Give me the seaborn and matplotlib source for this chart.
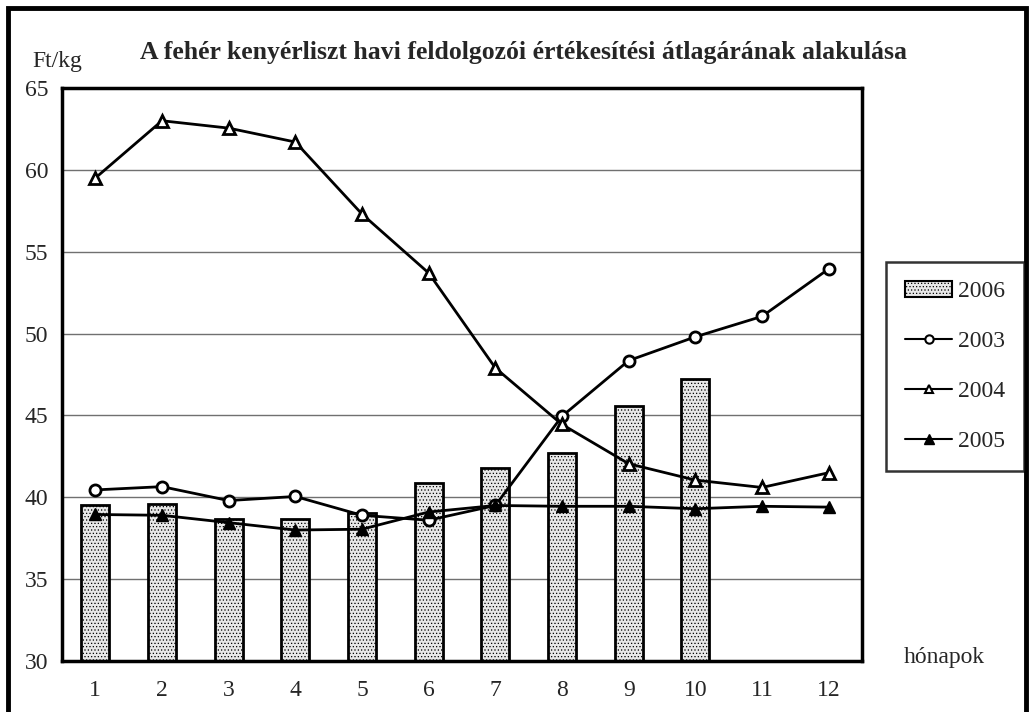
import numpy as np
import pandas as pd
import matplotlib
matplotlib.use("Agg")
import matplotlib.pyplot as plt
import matplotlib.patches as mpatches
from matplotlib.lines import Line2D
import seaborn as sns

# data (Ft/kg)
months = [1, 2, 3, 4, 5, 6, 7, 8, 9, 10, 11, 12]
price_2006 = [39.5, 39.6, 38.7, 38.7, 39.05, 40.9, 41.8, 42.7, 45.6, 47.2, np.nan, np.nan]
price_2003 = [40.45, 40.65, 39.8, 40.05, 38.9, 38.6, 39.5, 44.95, 48.35, 49.8, 51.05, 53.95]
price_2004 = [59.5, 63.0, 62.55, 61.7, 57.3, 53.7, 47.9, 44.45, 42.05, 41.05, 40.6, 41.5]
price_2005 = [38.95, 38.9, 38.45, 38.0, 38.05, 39.1, 39.5, 39.45, 39.45, 39.3, 39.45, 39.4]

sns.set_style("white")
plt.rcParams["font.family"] = ["Liberation Serif", "DejaVu Serif"]
plt.rcParams["hatch.linewidth"] = 0.5

fig = plt.figure(figsize=(10.29, 7.12), dpi=100)
ax = fig.add_axes([62 / 1029, 51 / 712, 800 / 1029, 573 / 712])

df = pd.DataFrame({"month": months, "2006": price_2006})
sns.barplot(data=df, x="month", y="2006", ax=ax, color="#e8e8e8",
            width=0.42, edgecolor="black", linewidth=2, hatch=".....",
            zorder=2)
for p in ax.patches:
    p.set_edgecolor("black")

xpos = np.arange(len(months))
line_kw = dict(ax=ax, color="black", linewidth=2, zorder=3, legend=False)
sns.lineplot(x=xpos, y=price_2003, marker="o", markersize=8,
             markerfacecolor="white", markeredgecolor="black",
             markeredgewidth=2, **line_kw)
sns.lineplot(x=xpos, y=price_2004, marker="^", markersize=8,
             markerfacecolor="white", markeredgecolor="black",
             markeredgewidth=2, **line_kw)
sns.lineplot(x=xpos, y=price_2005, marker="^", markersize=9,
             markerfacecolor="black", markeredgecolor="black",
             markeredgewidth=1, **line_kw)

ax.set_xlim(-0.5, len(months) - 0.5)
ax.set_ylim(30, 65)
ax.set_yticks(np.arange(30, 66, 5))
ax.set_xticks(xpos)
ax.set_xticklabels([str(m) for m in months])
ax.set_xticks(np.arange(-0.5, len(months), 1), minor=True)
ax.tick_params(axis="x", which="major", length=0, pad=14, labelsize=17)
ax.tick_params(axis="x", which="minor", length=5, width=2, direction="out", color="black")
ax.tick_params(axis="y", length=7, width=1.5, direction="out", color="black",
               labelsize=17, pad=3)
ax.set_xlabel("")
ax.set_ylabel("")

for y in range(35, 65, 5):
    ax.axhline(y, color="#707070", linewidth=1, zorder=1)

for side in ["left", "bottom", "top", "right"]:
    ax.spines[side].set_visible(True)
    ax.spines[side].set_color("black")
    ax.spines[side].set_linewidth(2.5)

fig.text(524 / 1029, 1 - 52 / 712, "A fehér kenyérliszt havi feldolgozói értékesítési átlagárának alakulása",
         ha="center", va="center", fontsize=18.5, fontweight="bold")
fig.text(57 / 1029, 1 - 62 / 712, "Ft/kg", ha="center", va="center", fontsize=17)
fig.text(944 / 1029, 1 - 658 / 712, "hónapok", ha="center", va="center", fontsize=17)

handles = [
    mpatches.Patch(facecolor="#e8e8e8", edgecolor="black", hatch=".....", linewidth=1.5),
    Line2D([], [], color="black", lw=1.5, marker="o", markersize=6,
           markerfacecolor="white", markeredgewidth=1.5),
    Line2D([], [], color="black", lw=1.5, marker="^", markersize=6,
           markerfacecolor="white", markeredgewidth=1.5),
    Line2D([], [], color="black", lw=1.5, marker="^", markersize=7,
           markerfacecolor="black"),
]
leg = fig.legend(handles, ["2006", "2003", "2004", "2005"],
                 loc="upper left", bbox_to_anchor=(886 / 1029, 1 - 262 / 712),
                 fontsize=17, frameon=True, fancybox=False, borderpad=0.8,
                 labelspacing=1.2, handlelength=2.0, handletextpad=0.25,
                 borderaxespad=0)
leg.get_frame().set_edgecolor("black")
leg.get_frame().set_linewidth(1.8)

# outer frame around the whole chart
fig.patches.append(mpatches.Rectangle((8 / 1029, -0.01), 1018 / 1029, 1 - 8 / 712 + 0.01,
                                      transform=fig.transFigure, fill=False,
                                      edgecolor="black", linewidth=3.5))

fig.savefig("out.png", dpi=100)
